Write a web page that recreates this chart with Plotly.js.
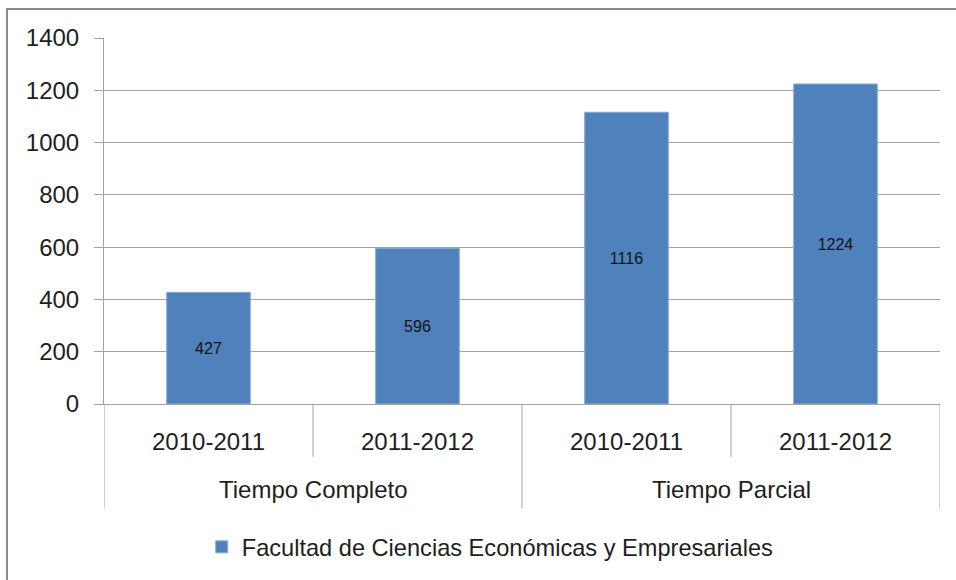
<!DOCTYPE html>
<html>
<head>
<meta charset="utf-8">
<script src="https://cdn.plot.ly/plotly-3.0.1.min.js"></script>
<style>
  html, body { margin: 0; padding: 0; background: #ffffff; overflow: hidden; }
  #wrap { position: relative; width: 956px; height: 580px; }
  #chart { position: absolute; left: 0; top: 0; width: 956px; height: 580px; }
  #frame { position: absolute; left: 6px; top: 8px; width: 2000px; height: 2000px;
           border: 2px solid #8a8a8a; pointer-events: none; }
</style>
</head>
<body>
<div id="wrap">
  <div id="chart"></div>
  <div id="frame"></div>
</div>
<script>
// ---- data ----
const years = ['2010-2011', '2011-2012', '2010-2011', '2011-2012'];
const groups = ['Tiempo Completo', 'Tiempo Completo', 'Tiempo Parcial', 'Tiempo Parcial'];
const values = [427, 596, 1116, 1224];
const seriesName = 'Facultad de Ciencias Económicas y Empresariales';
const yTicks = [0, 200, 400, 600, 800, 1000, 1200, 1400];

// ---- derived ----
const idx = years.map((_, i) => i);
const FONT = 'Liberation Sans, Arial, sans-serif';
const TEXT = '#1e1e1e';
const GRID = '#a3a3a3';

// group extents
const groupList = [];
groups.forEach((g, i) => {
  const last = groupList[groupList.length - 1];
  if (last && last.name === g) last.end = i; else groupList.push({name: g, start: i, end: i});
});

const shapes = [];
const annotations = [];
// short dividers between categories inside a group
for (let i = 0; i < years.length - 1; i++) {
  if (groups[i] === groups[i + 1]) {
    shapes.push({type: 'line', xref: 'x', yref: 'paper', x0: i + 0.5, x1: i + 0.5,
      y0: 0, y1: -0.1444, line: {color: GRID, width: 1}});
  }
}
// long dividers at group boundaries
const bounds = [groupList[0].start - 0.5].concat(groupList.map(g => g.end + 0.5));
bounds.forEach(b => {
  shapes.push({type: 'line', xref: 'x', yref: 'paper', x0: b, x1: b,
    y0: 0, y1: -0.286, line: {color: GRID, width: 1}});
});
groupList.forEach(g => {
  annotations.push({xref: 'x', yref: 'paper', x: (g.start + g.end) / 2, y: -0.2343,
    text: g.name, showarrow: false, xanchor: 'center', yanchor: 'middle',
    font: {family: FONT, size: 24, color: TEXT}});
});

const trace = {
  type: 'bar',
  x: idx,
  y: values,
  name: seriesName,
  width: 0.4,
  marker: {color: '#4f81bd', line: {color: '#86a8d4', width: 1}},
  text: values.map(String),
  textposition: 'inside',
  insidetextanchor: 'middle',
  textangle: 0,
  textfont: {family: FONT, size: 16, color: '#111111'},
  constraintext: 'none',
  showlegend: true,
  hoverinfo: 'none'
};

const layout = {
  width: 956,
  height: 580,
  margin: {l: 104, r: 16, t: 38, b: 175},
  paper_bgcolor: '#ffffff',
  plot_bgcolor: '#ffffff',
  font: {family: FONT, size: 24, color: TEXT},
  showlegend: true,
  legend: {orientation: 'h', x: 0.462, xanchor: 'center', y: -0.387, yanchor: 'middle',
    font: {family: FONT, size: 23.6, color: TEXT}, bgcolor: 'rgba(0,0,0,0)'},
  xaxis: {
    range: [-0.5, years.length - 0.5],
    tickmode: 'array',
    tickvals: idx,
    ticktext: years,
    ticks: '',
    showgrid: false,
    zeroline: false,
    showline: true,
    linecolor: GRID,
    linewidth: 1,
    tickfont: {family: FONT, size: 24, color: TEXT},
    ticklabelstandoff: 16,
    fixedrange: true
  },
  yaxis: {
    range: [0, 1400],
    tickmode: 'array',
    tickvals: yTicks,
    ticktext: yTicks.map(String),
    ticks: 'outside',
    ticklen: 9,
    tickcolor: GRID,
    tickwidth: 1,
    showgrid: true,
    gridcolor: GRID,
    gridwidth: 1,
    zeroline: false,
    showline: true,
    linecolor: GRID,
    linewidth: 1,
    tickfont: {family: FONT, size: 24, color: TEXT},
    ticklabelstandoff: 10,
    fixedrange: true
  },
  shapes: shapes,
  annotations: annotations,
  bargap: 0.6
};

Plotly.newPlot('chart', [trace], layout, {displayModeBar: false, staticPlot: true});
</script>
</body>
</html>
